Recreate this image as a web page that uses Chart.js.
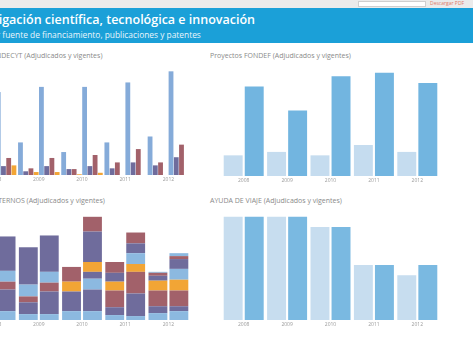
<!DOCTYPE html>
<html lang="es">
<head>
<meta charset="utf-8">
<title>Investigación científica, tecnológica e innovación</title>
<script src="https://cdn.jsdelivr.net/npm/chart.js@4.4.0/dist/chart.umd.min.js"></script>
<style>
  body { margin: 0; width: 473px; height: 339px; overflow: hidden; position: relative; background: #fff; font-family: "Open Sans", sans-serif; }
  .franja { position: absolute; left: 0; top: 0; width: 473px; height: 8px; background: #ebebeb; }
  .buscador { position: absolute; left: 358px; top: 1px; width: 66px; height: 4px; background: #fff; border: 1px solid #cfcfcf; }
  .descarga { position: absolute; left: 430px; top: 0px; font-size: 5px; color: #e07a6a; line-height: 7px; }
  .banda { position: absolute; left: 0; top: 8px; width: 473px; height: 35px; background: #1ba0d8; }
  .titulo { position: absolute; left: -38px; top: 11px; color: #fff; font-size: 12.5px; font-weight: 600; white-space: nowrap; }
  .subtitulo { position: absolute; left: -54px; top: 29px; color: #eaf6fc; font-size: 8.4px; white-space: nowrap; }
  .sub-judul { position: absolute; color: #8a8a8a; font-size: 7px; white-space: nowrap; }
  .chart-container { position: absolute; }
</style>
</head>
<body>
<div class="franja"></div>
<div class="buscador"></div>
<div class="descarga">Descargar PDF</div>
<div class="banda"></div>
<div class="titulo">Investigación científica, tecnológica e innovación</div>
<div class="subtitulo">Proyectos por fuente de financiamiento, publicaciones y patentes</div>

<div class="sub-judul" style="left:-47px; top:51px;">Proyectos FONDECYT (Adjudicados y vigentes)</div>
<div class="chart-container" style="left:-26px; top:58px; width:216px; height:127px;"><canvas id="fondecytChart"></canvas></div>

<div class="sub-judul" style="left:210px; top:51px;">Proyectos FONDEF (Adjudicados y vigentes)</div>
<div class="chart-container" style="left:222px; top:60px; width:217px; height:126px;"><canvas id="fondefChart"></canvas></div>

<div class="sub-judul" style="left:-43px; top:196px;">Proyectos INTERNOS (Adjudicados y vigentes)</div>
<div class="chart-container" style="left:-26px; top:205px; width:216px; height:125px;"><canvas id="internosChart"></canvas></div>

<div class="sub-judul" style="left:210px; top:196px;">AYUDA DE VIAJE (Adjudicados y vigentes)</div>
<div class="chart-container" style="left:222px; top:205px; width:217px; height:125px;"><canvas id="viajeChart"></canvas></div>

<script>
// Años de cada panel
const anios = ["2008", "2009", "2010", "2011", "2012"];

// FONDECYT: adjudicados / vigentes por concurso
const fondecytRegularAdj = [40, 44, 31, 44, 52];
const fondecytIniciacionAdj = [7, 5, 8, 9, 13];
const fondecytPostdocAdj = [11, 9, 8, 17, 17];
const fondecytOtrosAdj = [5, 4, 1, 0, 0];
const fondecytRegularVig = [112, 119, 119, 125, 140];
const fondecytIniciacionVig = [12, 12, 12, 17, 24];
const fondecytPostdocVig = [23, 23, 27, 35, 41];
const fondecytOtrosVig = [13, 4, 3, 0, 0];

// FONDEF
const fondefAdj = [6, 7, 6, 9, 7];
const fondefVig = [26, 19, 29, 30, 27];

// Ayuda de viaje
const viajeAdj = [30, 30, 27, 16, 13];
const viajeVig = [30, 30, 27, 16, 16];

// Proyectos internos: un arreglo por tramo de la pila (de abajo hacia arriba)
const internosAdj = [
    [14, 12, 18, 10, 14],
    [30, 24, 40, 16, 14],
    [14, 12, 0, 34, 32],
    [0, 0, 20, 18, 20],
    [20, 24, 0, 0, 0],
    [60, 76, 0, 18, 10],
    [0, 0, 30, 22, 6],
    [0, 0, 0, 0, 0],
    [0, 0, 0, 0, 2],
    [0, 0, 0, 0, 0],
    [0, 0, 0, 0, 0],
];
const internosVig = [
    [18, 12, 18, 8, 18],
    [44, 46, 44, 46, 10],
    [16, 18, 0, 44, 32],
    [0, 0, 0, 16, 22],
    [22, 22, 22, 22, 22],
    [70, 74, 14, 20, 20],
    [0, 0, 0, 22, 6],
    [0, 0, 20, 0, 0],
    [0, 0, 0, 0, 6],
    [0, 0, 62, 0, 0],
    [0, 0, 30, 0, 0],
];

const azul = "#85abd9";
const morado = "#6f6c9c";
const rojo = "#a2616a";
const naranjo = "#f2a535";
const celeste = "#8cb9e0";
const paleta = [celeste, morado, rojo, naranjo];

// Opciones comunes a los cuatro graficos
function opcionesBase(maxY, stacked) {
    return {
        responsive: true,
        maintainAspectRatio: false,
        animation: false,
        plugins: {
            legend: { display: false },
            tooltip: { enabled: false },
        },
        layout: { padding: 0 },
        scales: {
            x: {
                stacked: stacked,
                grid: { display: false, drawTicks: false },
                border: { display: false },
                ticks: {
                    color: "#9a9a9a",
                    padding: 2,
                    font: { size: 5, family: "Open Sans" },
                },
            },
            y: {
                stacked: stacked,
                display: false,
                min: 0,
                max: maxY,
            },
        },
    };
}

function barra(label, data, color, extra) {
    return Object.assign({
        label: label,
        data: data,
        backgroundColor: color,
        borderWidth: 0,
        barPercentage: 0.9,
        categoryPercentage: 0.97,
    }, extra || {});
}

function initFondecyt() {
    const ctx = document.getElementById("fondecytChart").getContext("2d");
    const extra = { barPercentage: 0.92, categoryPercentage: 0.97 };
    new Chart(ctx, {
        type: "bar",
        data: {
            labels: anios,
            datasets: [
                barra("Regular adjudicados", fondecytRegularAdj, azul, extra),
                barra("Iniciación adjudicados", fondecytIniciacionAdj, morado, extra),
                barra("Postdoctorado adjudicados", fondecytPostdocAdj, rojo, extra),
                barra("Otros adjudicados", fondecytOtrosAdj, naranjo, extra),
                barra("Regular vigentes", fondecytRegularVig, azul, extra),
                barra("Iniciación vigentes", fondecytIniciacionVig, morado, extra),
                barra("Postdoctorado vigentes", fondecytPostdocVig, rojo, extra),
                barra("Otros vigentes", fondecytOtrosVig, naranjo, extra),
            ],
        },
        options: opcionesBase(158, false),
    });
}

function initFondef() {
    const ctx = document.getElementById("fondefChart").getContext("2d");
    new Chart(ctx, {
        type: "bar",
        data: {
            labels: anios,
            datasets: [
                barra("Adjudicados", fondefAdj, "#c5dcef"),
                barra("Vigentes", fondefVig, "#72b5e0"),
            ],
        },
        options: opcionesBase(33.7, false),
    });
}

function initInternos() {
    const ctx = document.getElementById("internosChart").getContext("2d");
    const datasets = [];
    internosAdj.forEach((tramo, i) => {
        datasets.push(barra("Adjudicados " + (i + 1), tramo, paleta[i % 4], { stack: "adj" }));
    });
    internosVig.forEach((tramo, i) => {
        datasets.push(barra("Vigentes " + (i + 1), tramo, paleta[i % 4], { stack: "vig" }));
    });
    new Chart(ctx, {
        type: "bar",
        data: { labels: anios, datasets: datasets },
        options: opcionesBase(234, true),
    });
}

function initViaje() {
    const ctx = document.getElementById("viajeChart").getContext("2d");
    new Chart(ctx, {
        type: "bar",
        data: {
            labels: anios,
            datasets: [
                barra("Adjudicados", viajeAdj, "#c7ddef"),
                barra("Vigentes", viajeVig, "#7ab9e1"),
            ],
        },
        options: opcionesBase(33.4, false),
    });
}

initFondecyt();
initFondef();
initInternos();
initViaje();
</script>
</body>
</html>
